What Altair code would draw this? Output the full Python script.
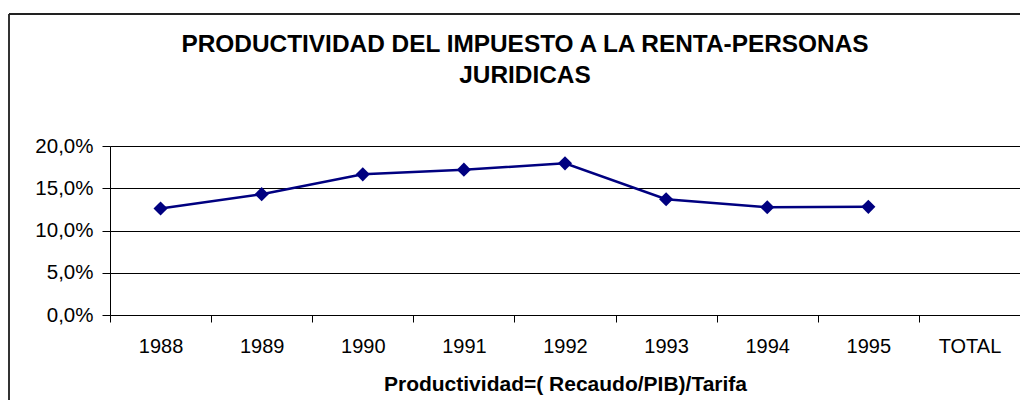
import altair as alt
import pandas as pd

years = ["1988", "1989", "1990", "1991", "1992", "1993", "1994", "1995", "TOTAL"]
productividad = [0.126, 0.143, 0.1665, 0.172, 0.1795, 0.137, 0.1275, 0.128, None]
title_lines = ["PRODUCTIVIDAD DEL IMPUESTO A LA RENTA-PERSONAS", "JURIDICAS"]

df = pd.DataFrame({"anio": years, "valor": productividad})

W, H = 910, 169

x_enc = alt.X(
    "anio:N",
    sort=years,
    scale=alt.Scale(type="band", domain=years, paddingInner=0, paddingOuter=0),
    bandPosition=0.5,
    axis=alt.Axis(
        title="Productividad=( Recaudo/PIB)/Tarifa",
        titleFont="Liberation Sans",
        titleFontSize=21,
        titleFontWeight="bold",
        titleColor="black",
        titlePadding=17,
        labelFont="Liberation Sans",
        labelFontSize=20,
        labelColor="black",
        labelAngle=0,
        labelPadding=14,
        tickBand="extent",
        tickSize=7,
        tickColor="black",
        domainColor="black",
        grid=False,
    ),
)

y_enc = alt.Y(
    "valor:Q",
    scale=alt.Scale(domain=[0, 0.2], nice=False),
    axis=alt.Axis(
        title=None,
        values=[0, 0.05, 0.10, 0.15, 0.20],
        labelExpr="replace(format(datum.value, '.1%'), '.', ',')",
        labelFont="Liberation Sans",
        labelFontSize=20.5,
        labelColor="black",
        labelPadding=9,
        tickSize=8,
        tickColor="black",
        domainColor="black",
        grid=True,
        gridColor="black",
        gridWidth=1,
    ),
)

line = alt.Chart(df).mark_line(
    color="#000080", strokeWidth=2.5,
    point=alt.OverlayMarkDef(shape="diamond", size=200, filled=True, color="#000080", opacity=1),
).encode(x=x_enc, y=y_enc)

frame_df = pd.DataFrame({"k": [0]})
frame_left = alt.Chart(frame_df).mark_rule(color="#333333", strokeWidth=2).encode(
    x=alt.value(-101), y=alt.value(-132), y2=alt.value(H + 200)
)
frame_top = alt.Chart(frame_df).mark_rule(color="#222222", strokeWidth=2).encode(
    x=alt.value(-101), x2=alt.value(W + 200), y=alt.value(-132)
)

title1 = alt.Chart(frame_df).mark_text(
    text=title_lines[0], font="Liberation Sans", fontSize=24.4, fontWeight="bold",
    color="black", align="center", baseline="middle",
).encode(x=alt.value(W / 2 - 40), y=alt.value(-101))
title2 = alt.Chart(frame_df).mark_text(
    text=title_lines[1], font="Liberation Sans", fontSize=24.4, fontWeight="bold",
    color="black", align="center", baseline="middle",
).encode(x=alt.value(W / 2 - 40), y=alt.value(-70))

chart = alt.layer(line, frame_left, frame_top, title1, title2).properties(
    width=W,
    height=H,
    autosize=alt.AutoSizeParams(type="none"),
    padding={"left": 102, "top": 138, "right": 0, "bottom": 85},
).configure_view(
    fill="#C0C0C0", stroke="#808080", strokeWidth=1
).configure(background="white")

chart.save("out.html", embed_options={"renderer": "svg", "actions": False})
